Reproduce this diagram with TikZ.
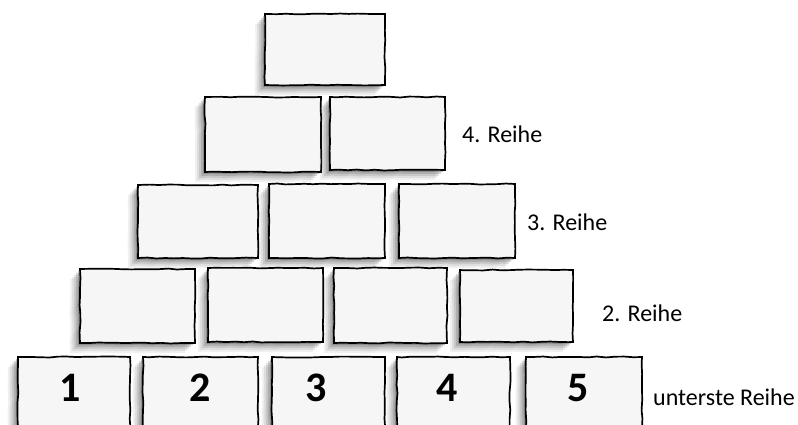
\documentclass[tikz,border=0pt]{standalone}
\usepackage{fontspec}
\setmainfont{Carlito}
\usetikzlibrary{shadows,decorations.pathmorphing}
\tikzset{
  brick/.style={draw=black, line width=1.7pt, fill=gray!7, inner sep=0pt,
    decorate, decoration={random steps, segment length=9pt, amplitude=0.5pt},
    general shadow={shadow xshift=-10pt, shadow yshift=-10pt, fill=black!55, opacity=0.10},
    general shadow={shadow xshift=-8pt, shadow yshift=-8pt, fill=black!55, opacity=0.14},
    general shadow={shadow xshift=-6pt, shadow yshift=-6pt, fill=black!55, opacity=0.20},
    general shadow={shadow xshift=-4pt, shadow yshift=-4pt, fill=black!60, opacity=0.26},
    general shadow={shadow xshift=-2pt, shadow yshift=-2pt, fill=black!70, opacity=0.32}},
  rowlabel/.style={anchor=base west, inner sep=0pt, font=\fontsize{24}{28}\selectfont},
  num/.style={anchor=base, inner sep=0pt, font=\fontsize{42}{46}\selectfont\bfseries}
}
\begin{document}
\begin{tikzpicture}[x=1pt,y=-1pt]
\clip (0,0) rectangle (798,425);
\fill[white] (0,0) rectangle (798,425);
% row 1
\node[brick, minimum width=120pt, minimum height=71pt] (a1) at (325,49.5) {};
% row 2
\node[brick, minimum width=116pt, minimum height=75pt] (b1) at (263,134.5) {};
\node[brick, minimum width=115pt, minimum height=73pt] (b2) at (387.5,133.5) {};
% row 3
\node[brick, minimum width=120pt, minimum height=73pt] (c1) at (198,221.5) {};
\node[brick, minimum width=116pt, minimum height=74pt] (c2) at (327,221) {};
\node[brick, minimum width=116pt, minimum height=74pt] (c3) at (457,221) {};
% row 4
\node[brick, minimum width=115pt, minimum height=74pt] (d1) at (137.5,306) {};
\node[brick, minimum width=115pt, minimum height=74pt] (d2) at (265.5,305) {};
\node[brick, minimum width=113pt, minimum height=75pt] (d3) at (390.5,305.5) {};
\node[brick, minimum width=113pt, minimum height=72pt] (d4) at (516.5,306) {};
% row 5 (bottom, cut off by page edge)
\node[brick, minimum width=112pt, minimum height=80pt] (e1) at (74,397) {};
\node[brick, minimum width=115pt, minimum height=80pt] (e2) at (200.5,397) {};
\node[brick, minimum width=113pt, minimum height=80pt] (e3) at (328.5,397) {};
\node[brick, minimum width=113pt, minimum height=80pt] (e4) at (453.5,397) {};
\node[brick, minimum width=116pt, minimum height=80pt] (e5) at (584,397) {};
% numbers
\node[num] (n1) at (70,401) {1};
\node[num] (n2) at (200,401) {2};
\node[num] (n3) at (316,401) {3};
\node[num] (n4) at (447,401) {4};
\node[num] (n5) at (578,401) {5};
% row labels
\node[rowlabel] (l4) at (462,142.7) {4. Reihe};
\node[rowlabel] (l3) at (527,230.7) {3. Reihe};
\node[rowlabel] (l2) at (602,321.7) {2. Reihe};
\node[rowlabel] (l1) at (653,405) {unterste Reihe};
\end{tikzpicture}
\end{document}
